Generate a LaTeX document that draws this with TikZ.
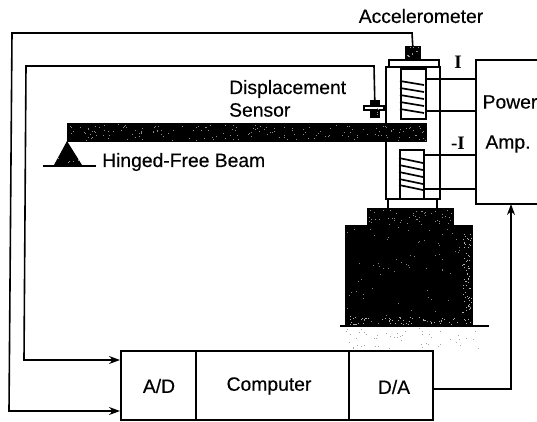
\documentclass[tikz,border=0pt]{standalone}
\usepackage{fontspec}
\setmainfont[FakeBold=0.35]{Liberation Sans}
\newfontfamily\serifb{Liberation Serif}
\usetikzlibrary{arrows.meta}
\tikzset{
  wire/.style={line width=1.6pt,line join=miter},
  arrowwire/.style={wire,-{Stealth[length=11pt,width=8pt]}},
  part/.style={draw,line width=1.7pt,inner sep=0pt,anchor=north west},
  solid block/.style={fill=black,draw=black,line width=.5pt,inner sep=0pt,anchor=north west},
  lab/.style={font=\fontsize{19.3}{20}\selectfont,inner sep=0pt},
  sym/.style={font=\serifb\bfseries\fontsize{19}{20}\selectfont,inner sep=0pt},
  turn/.style={line width=1.7pt}
}
\newcommand{\speck}[6]{% x0 y0 w h count colour
  \foreach \k in {1,...,#5}{
    \pgfmathsetmacro{\px}{#1+rnd*#3}
    \pgfmathsetmacro{\py}{#2+rnd*#4}
    \fill[#6] (\px,\py) rectangle ++(0.9,0.9);
  }}
\begin{document}
\begin{tikzpicture}[x=1pt,y=-1pt]
\useasboundingbox (0,0) rectangle (537,421);
\pgfmathsetseed{42}
% plant
\node[part,minimum width=54pt,minimum height=132pt] (frame) at (385,66) {};
\node[part,minimum width=50pt,minimum height=7pt] (cap) at (388,59) {};
\node[solid block,minimum width=15pt,minimum height=13pt] (acc) at (405,46) {};
\node[part,minimum width=25pt,minimum height=50pt] (coilA) at (400,68) {};
\node[part,minimum width=24pt,minimum height=49pt] (coilB) at (399,149) {};
\foreach \y in {81,88,95,102,109}{\draw[turn] (400,\y) -- (424,\y+4);}
\foreach \y in {158,165,172,179,185}{\draw[turn] (399,\y) -- (423,\y+5);}
\node[part,minimum width=49pt,minimum height=10pt] (foot) at (387,198) {};
\node[solid block,minimum width=86pt,minimum height=17pt] (mass) at (367,208) {};
\node[solid block,minimum width=127pt,minimum height=101pt] (base) at (345,225) {};
\node[solid block,minimum width=359pt,minimum height=18pt] (beam) at (67,123) {};
% displacement sensor
\node[solid block,minimum width=9pt,minimum height=17pt] (disp) at (370,100) {};
\draw[line width=1.3pt,fill=white] (364,106) rectangle (384,110);
\draw[line width=1.5pt] (384,108) -- (386,108);
% hinge
\coordinate (hinge) at (67,141);
\fill (hinge) -- (82,165) -- (54,165) -- cycle;
\draw[line width=1.5pt] (43,166) -- (96,166);
% ground
\draw[line width=1.8pt] (340,326) -- (489,326);
\speck{344}{328}{136}{20}{50}{black!35}
% texture
\speck{68}{124}{357}{16}{170}{black!45}
\speck{368}{209}{84}{15}{50}{black!45}
\speck{346}{226}{125}{98}{70}{black!50}
\speck{462}{232}{9}{92}{70}{white!70!black}
\speck{348}{316}{120}{8}{60}{white!70!black}
\speck{406}{47}{13}{11}{12}{black!40}
\speck{372}{103}{6}{11}{4}{black!40}
\speck{56}{157}{22}{7}{6}{black!40}
% amplifier
\draw[line width=1.7pt] (537,60) -- (476,60) -- (476,204) -- (537,204);
\node[inner sep=0pt,minimum width=61pt,minimum height=144pt,anchor=north west] (amp) at (476,60) {};
% computer
\node[part,minimum width=75pt,minimum height=69pt] (ad) at (120,350) {};
\node[part,minimum width=153pt,minimum height=69pt] (cpu) at (195,350) {};
\node[part,minimum width=84pt,minimum height=69pt] (da) at (348,350) {};
% coil wires
\draw[wire] (425,79) -- (476,79);
\draw[wire] (425,111) -- (476,111);
\draw[wire] (423,155) -- (476,155);
\draw[wire] (423,189) -- (476,189);
% signal wires
\coordinate (adtop) at (120,360);
\coordinate (adbot) at (120,411);
\coordinate (amptap) at (511,204);
\draw[arrowwire] (acc.north) -- (412,33) -- (12,33) -- (9,411) -- (adbot);
\draw[arrowwire] (disp.north) -- (374,66) -- (26,66) -- (24,360) -- (adtop);
\draw[arrowwire] (da.east |- 0,389) -- (511,389) -- (amptap);
% labels
\node[lab] at (421,16) {Accelerometer};
\node[lab,anchor=west] at (229,89) {Displacement};
\node[lab,anchor=west] at (229,110) {Sensor};
\node[lab,anchor=west] at (102,162) {Hinged-Free Beam};
\node[lab] at (510,102) {Power};
\node[lab] at (508,144) {Amp.};
\node[sym] at (458,62) {I};
\node[sym] at (458,143) {-I};
\node[lab] at (159,386) {A/D};
\node[lab] at (269,386) {Computer};
\node[lab] at (394,387) {D/A};
\end{tikzpicture}
\end{document}
